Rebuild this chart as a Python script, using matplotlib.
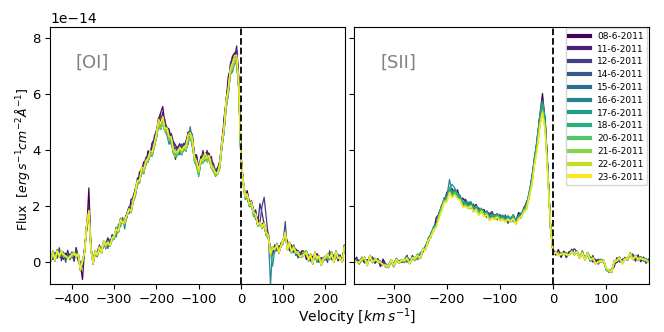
import numpy as np
import matplotlib
matplotlib.use("Agg")
import matplotlib.pyplot as plt

DATES = ["08-6-2011", "11-6-2011", "12-6-2011", "14-6-2011", "15-6-2011", "16-6-2011",
         "17-6-2011", "18-6-2011", "20-6-2011", "21-6-2011", "22-6-2011", "23-6-2011"]

# [OI] mean profile (units of 1e-14), sampled every 5 km/s from -450 km/s
OI_V0 = -450
OI_BASE = [
    0.10, 0.20, 0.15, 0.25, 0.30, 0.20, 0.25, 0.15, 0.30, 0.20,
    0.25, 0.15, 0.30, 0.10, -0.20, -0.10, 0.40, 1.30, 2.00, 0.50,
    0.00, 0.20, 0.30, 0.40, 0.45, 0.55, 0.60, 0.65, 0.75, 0.85,
    0.90, 1.05, 1.20, 1.35, 1.50, 1.30, 1.70, 1.85, 2.00, 2.25,
    2.50, 2.75, 3.00, 3.20, 3.40, 3.50, 3.70, 3.90, 4.10, 4.30,
    4.60, 4.90, 5.00, 5.05, 4.90, 4.65, 4.50, 4.40, 4.20, 3.95,
    4.00, 3.95, 4.10, 4.05, 4.20, 4.35, 4.60, 4.30, 3.90, 3.60,
    3.25, 3.50, 3.75, 3.70, 3.80, 3.65, 3.50, 3.30, 3.35, 3.25,
    3.50, 4.10, 4.90, 5.60, 6.30, 6.80, 7.10, 7.30, 7.55, 6.40,
    3.80, 2.75, 2.45, 2.30, 2.15, 1.95, 1.80, 1.65, 1.50, 1.40,
    1.30, 1.20, 1.10, 0.80, 0.40, 0.35, 0.45, 0.55, 0.50, 0.65,
    0.75, 0.90, 0.55, 0.50, 0.45, 0.40, 0.35, 0.30, 0.35, 0.25,
    0.30, 0.20, 0.15, 0.10, 0.05, 0.15, 0.10, 0.15, 0.05, 0.10,
    0.15, 0.10, 0.20, 0.15, 0.10, 0.20, 0.15, 0.10, 0.15, 0.60,
]

# [SII] mean profile (units of 1e-14), sampled every 5 km/s from -375 km/s
SII_V0 = -375
SII_BASE = [
    0.05, 0.10, 0.00, 0.10, 0.05, -0.05, 0.10, 0.05, 0.00, 0.05,
    -0.05, 0.00, -0.10, -0.15, -0.05, -0.10, 0.00, 0.05, -0.05, 0.05,
    0.10, 0.05, 0.15, 0.10, 0.15, 0.20, 0.35, 0.50, 0.70, 0.95,
    1.15, 1.40, 1.65, 1.90, 2.10, 2.30, 2.45, 2.45, 2.40, 2.35,
    2.25, 2.15, 2.10, 2.00, 1.95, 1.90, 1.85, 1.80, 1.75, 1.70,
    1.70, 1.65, 1.65, 1.60, 1.55, 1.60, 1.50, 1.55, 1.45, 1.50,
    1.55, 1.50, 1.60, 1.65, 1.75, 2.00, 2.30, 2.90, 3.50, 4.20,
    5.00, 5.65, 4.90, 3.20, 1.20, 0.35, 0.25, 0.30, 0.20, 0.30,
    0.25, 0.35, 0.40, 0.30, 0.25, 0.20, 0.25, 0.15, 0.20, 0.10,
    0.10, 0.05, 0.00, 0.05, -0.05, -0.20, -0.40, -0.30, -0.10, 0.05,
    0.10, 0.05, 0.15, 0.10, 0.20, 0.15, 0.10, 0.15, 0.05, 0.10,
    0.05, 0.10,
]

# per-night scale of each profile (read from peak heights)
OI_SCALE = [1.02, 1.02, 1.01, 0.99, 0.97, 0.96, 0.97, 0.98, 0.97, 0.97, 0.99, 1.00]
SII_SCALE = [1.04, 1.03, 1.02, 1.00, 1.00, 1.03, 1.04, 1.02, 0.98, 0.97, 0.97, 0.96]

# per-night pixel-to-pixel wiggles (digit codes, 0..9, centre 4.5)
WIGGLES = [
    "4637251846 5293746185 3748265917 4826375194 6385729164 2749368152 5836492718 3947582613 6284937516 4729385162 5938472615 3846295718 6273849516 4958362714",
    "5382916473 6294837152 4869273514 3758294616 5927384165 4839261758 3926485717 6582739416 4937286153 5826394718 3749528163 6492837515 4836295174 5739264813",
    "3846295714 7285936413 5938264715 4629385716 3847296518 6293847156 4758392615 3846275914 6928374615 5837462914 4926385713 5839274616 3748295164 6293847514",
    "6293847152 4839265716 3728495163 5946382714 4857293615 3729485164 6384927153 4958362714 5827394615 3946285714 6738294513 4829376154 5938274615 3849267514",
    "4729385614 5836294713 6947382514 3826495716 5739284615 4826395714 3958274613 6829374516 4738295614 5947382615 3826495714 6749382513 4958273614 5837294614",
    "5938274613 3829465714 4736295816 6294837514 3847295614 5938462713 4729385614 3846295716 5937284615 4826397514 6739284513 3948275614 5827394614 4938265713",
    "3948275615 6829374514 4937285614 5826394716 4738295613 6947382514 3826495715 5739284614 4826395713 3958274615 6829374514 4738295613 5947382614 3826495715",
    "6729384514 4958273615 3837294614 4928375614 6839274514 3748295615 5936284713 4829375614 6738294515 3947285613 5826394714 4739285614 6928374513 5837294615",
    "4827395614 5739284613 6948273514 3829465715 5738294614 4926385713 6847293514 3958274616 4829375613 5947382614 3826495714 6738294515 4829375613 5938274614",
    "5847293615 3928475614 4738295613 6829374514 3947285614 5836294713 4928375615 6739284514 3847295613 5928374614 4836295714 3947285613 6829374515 4738295614",
    "3928475613 6847293514 5738294615 4829375614 6938274513 3748295614 5837294615 4926385713 6829374514 3958274615 5738294613 4829375614 3947285615 6839274513",
    "4738295614 5829374613 3947285615 6738294514 4829375613 5938274614 3826495715 6749382513 4938275614 5827394615 3948275613 6829374514 4738295615 5937284613",
]

# individual features of single nights: (night index, velocity, extra flux)
OI_FEATURES = [
    (0, -375, -0.5), (0, -360, 0.45), (0, -190, 0.25), (0, -185, 0.2), (0, -155, -0.25),
    (1, 45, 0.5), (1, 50, 0.5),
    (2, 50, 0.7), (2, 55, 0.9), (2, 60, 0.6),
    (3, 105, 0.4),
    (5, 70, -1.1), (5, -120, 0.4), (5, -80, 0.3),
    (6, 75, -0.6), (6, -115, 0.3),
]
SII_FEATURES = [
    (0, -20, 0.25), (5, -195, 0.35), (6, -190, 0.3), (1, 40, 0.15),
]

cmap = plt.get_cmap("viridis")
colors = [cmap(i / (len(DATES) - 1)) for i in range(len(DATES))]


def build(base, v0, scale, wig_off, wig_amp, features):
    base = np.asarray(base)
    vel = v0 + 5 * np.arange(len(base))
    series = []
    for i in range(len(DATES)):
        w = WIGGLES[i].replace(" ", "")[wig_off:wig_off + len(base)]
        dev = (np.array([int(c) for c in w]) - 4.5) * wig_amp
        y = base * scale[i] + dev
        for (k, v, d) in features:
            if k == i:
                y[np.argmin(np.abs(vel - v))] += d
        series.append(y * 1e-14)
    return vel, series


oi_v, oi_series = build(OI_BASE, OI_V0, OI_SCALE, 0, 0.045, OI_FEATURES)
sii_v, sii_series = build(SII_BASE, SII_V0, SII_SCALE, 7, 0.03, SII_FEATURES)

plt.rcParams["font.size"] = 10
fig = plt.figure(figsize=(6.64, 3.32), dpi=100)
ax1 = fig.add_axes([0.0753, 0.145, 0.444, 0.774])
ax2 = fig.add_axes([0.533, 0.145, 0.444, 0.774], sharey=ax1)

for i, d in enumerate(DATES):
    ax1.plot(oi_v, oi_series[i], color=colors[i], lw=0.9)
    ax2.plot(sii_v, sii_series[i], color=colors[i], lw=0.9, label=d)

for ax in (ax1, ax2):
    ax.axvline(0, color="black", ls="--", lw=1.3)
    ax.tick_params(labelsize=9.5, pad=3)

ax1.set_xlim(-452, 246)
ax2.set_xlim(-375, 180)
ax1.set_ylim(-0.78e-14, 8.4e-14)
ax1.yaxis.get_offset_text().set_fontsize(10)
plt.setp(ax2.get_yticklabels(), visible=False)
ax2.yaxis.get_offset_text().set_visible(False)

ax1.text(0.088, 0.86, "[OI]", transform=ax1.transAxes, color="gray", fontsize=13, va="center")
ax2.text(0.09, 0.86, "[SII]", transform=ax2.transAxes, color="gray", fontsize=13, va="center")

ax1.set_ylabel(r"Flux  $[erg\,s^{-1}cm^{-2}\AA^{-1}]$", fontsize=9)
ax1.yaxis.set_label_coords(-0.06, 0.486)
fig.text(0.537, 0.045, r"Velocity $[km\,s^{-1}]$", ha="center", va="center", fontsize=10)

leg = ax2.legend(loc="upper right", fontsize=6.5, borderaxespad=0.15, handlelength=2.3,
                 labelspacing=0.42)
for line in leg.get_lines():
    line.set_linewidth(3)

fig.savefig("out.png", dpi=100)
